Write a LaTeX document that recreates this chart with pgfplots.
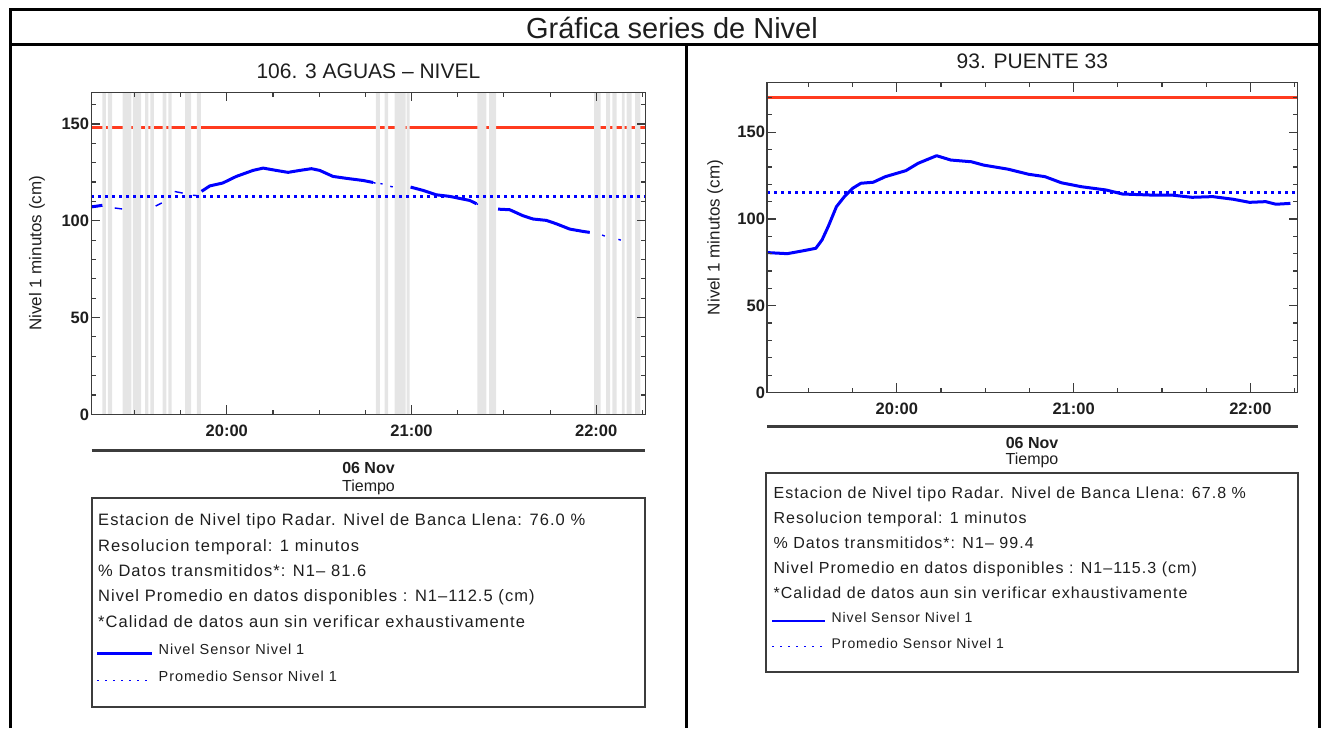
\documentclass[border=0pt]{standalone}
\usepackage{pgfplots}
\pgfplotsset{compat=1.18}
\usepackage{fontspec}
\setmainfont{Liberation Sans}
% IDL text is set wider than Arial; widen it a little
\newfontfamily\boxfont[LetterSpace=6.5]{Liberation Sans}

\definecolor{nivred}{RGB}{255,59,31}
\definecolor{gapgray}{RGB}{229,229,229}
\definecolor{axgray}{RGB}{60,60,60}
\definecolor{txt}{RGB}{30,30,30}

\pgfplotsset{
  nivel/.style={
    scale only axis,
    xmin=16, xmax=196, ymin=0,
    axis on top,
    clip=true,
    unbounded coords=jump,
    axis line style={line width=1.6pt, draw=axgray},
    xtick={60,120,180},
    xticklabels={20:00,21:00,22:00},
    minor xtick={30,45,75,90,105,135,150,165,195},
    ytick={0,50,100,150},
    minor ytick={10,20,...,170},
    tick align=inside,
    tick pos=both,
    major tick length=9pt,
    minor tick length=4.5pt,
    every tick/.append style={line width=1.1pt, draw=axgray},
    every minor tick/.append style={line width=1.1pt, draw=axgray},
    /pgf/number format/assume math mode=true,
    tick label style={font=\fontsize{16.5}{18}\selectfont\bfseries, text=txt},
    yticklabel style={inner sep=2pt},
    xticklabel style={anchor=north, inner sep=0pt, yshift=-10pt},
    ylabel={Nivel 1 minutos (cm)},
    ylabel style={font=\fontsize{17}{20}\selectfont, text=txt,
      at={(axis description cs:-0.098,0.5)}, anchor=center},
    title style={font=\fontsize{21}{24}\selectfont, text=txt,
      at={(0.5,1)}, anchor=base, yshift=8pt},
  }
}

\begin{document}
\begin{tikzpicture}[x=1pt, y=1pt]
\useasboundingbox (0,0) rectangle (1322,728);

% table frame
\draw[line width=3pt] (10,0) -- (10,718) -- (1319,718) -- (1319,0);
\draw[line width=3pt] (10,683) -- (1319,683);
\draw[line width=3pt] (686,683) -- (686,0);
\node[anchor=base, font=\fontsize{29}{34}\selectfont, text=txt] at (672,689) {Gráfica series de Nivel};

% ---------------- left: 106. 3 AGUAS - NIVEL ----------------
\begin{axis}[nivel,
    at={(91.3pt,313.6pt)}, anchor=south west,
    width=554.2pt, height=322pt,
    ymax=166.3,
    title={106. 3 AGUAS – NIVEL},
  ]
  % banca llena
  \addplot[nivred, line width=3pt] coordinates {(16,148) (196,148)};
  % periods without data
  \addplot[fill=gapgray, draw=none] coordinates {
    (19.6,0) (19.6,170) (20.7,170) (20.7,0)
    (21.4,0) (21.4,170) (22.8,170) (22.8,0)
    (26.2,0) (26.2,170) (29.0,170) (29.0,0)
    (29.5,0) (29.5,170) (32.2,170) (32.2,0)
    (33.5,0) (33.5,170) (34.5,170) (34.5,0)
    (35.2,0) (35.2,170) (36.3,170) (36.3,0)
    (39.2,0) (39.2,170) (40.4,170) (40.4,0)
    (41.0,0) (41.0,170) (42.1,170) (42.1,0)
    (46.5,0) (46.5,170) (48.4,170) (48.4,0)
    (50.3,0) (50.3,170) (51.6,170) (51.6,0)
    (108.4,0) (108.4,170) (109.7,170) (109.7,0)
    (111.3,0) (111.3,170) (112.4,170) (112.4,0)
    (114.5,0) (114.5,170) (118.1,170) (118.1,0)
    (118.4,0) (118.4,170) (119.4,170) (119.4,0)
    (141.4,0) (141.4,170) (144.3,170) (144.3,0)
    (145.2,0) (145.2,170) (147.5,170) (147.5,0)
    (179.3,0) (179.3,170) (181.4,170) (181.4,0)
    (183.2,0) (183.2,170) (184.5,170) (184.5,0)
    (185.2,0) (185.2,170) (186.6,170) (186.6,0)
    (188.3,0) (188.3,170) (189.2,170) (189.2,0)
    (189.9,0) (189.9,170) (191.5,170) (191.5,0)
    (192.6,0) (192.6,170) (194.3,170) (194.3,0)
  };
  % promedio
  \addplot[blue, line width=3pt, dash pattern=on 2.5pt off 4.5pt] coordinates {(16,112.5) (196,112.5)};
  % nivel, isolated readings
  \addplot[blue, line width=1.4pt, line join=round] coordinates {
    (23.6,106.6) (26.0,106.1) (26.0,nan)
    (36.9,107.6) (38.9,109.2) (38.9,nan)
    (43.1,115.1) (45.7,114.3) (45.7,nan)
    (49.0,113.2) (50.3,113.0) (50.3,nan)
    (107.5,119.8) (108.3,119.4) (108.3,nan)
    (109.9,119.2) (110.6,119.0) (110.6,nan)
    (113.1,117.8) (113.9,117.5) (113.9,nan)
    (141.1,108.8) (141.6,108.5) (141.6,nan)
    (181.9,92.6) (182.8,92.1) (182.8,nan)
    (187.2,90.4) (188.0,90.0)
  };
  % nivel, continuous readings
  \addplot[blue, line width=3pt, line join=round] coordinates {
    (16.1,107.2) (18.0,107.6) (19.6,108.0) (19.6,nan)
    (51.8,115.2) (54.5,118.0) (58.7,119.5) (63.1,122.9) (68.5,126.0)
    (71.8,127.2) (76.1,126.0) (79.9,125.0) (83.7,126.0) (87.5,126.9)
    (90.2,126.0) (94.5,122.9) (98.9,121.9) (104.3,120.8) (107.5,119.8)
    (107.5,nan)
    (119.7,117.4) (123.7,115.7) (128.1,113.4) (132.4,112.6) (136.7,111.2)
    (138.9,110.5) (141.1,108.8) (141.1,nan)
    (148.1,106.0) (151.9,105.7) (156.2,102.6) (159.5,100.9) (163.8,100.2)
    (167.1,98.4) (171.4,95.7) (175.7,94.5) (177.9,94.0)
  };
\end{axis}

\draw[line width=2.5pt, axgray] (91.5,277.3) -- (645,277.3);
\node[anchor=base, font=\fontsize{16}{18}\selectfont\bfseries, text=txt] at (368.5,254) {06 Nov};
\node[anchor=base, font=\fontsize{16}{18}\selectfont, text=txt] at (368.5,236.5) {Tiempo};
\draw[line width=2pt, axgray] (91.5,229.7) rectangle (645,21.3);
\begin{scope}[every node/.style={anchor=base west, inner sep=0pt, text=txt, font=\boxfont\fontsize{16.5}{18}\selectfont}]
  \node at (98,202) {Estacion de Nivel tipo Radar. Nivel de Banca Llena: 76.0 \%};
  \node at (98,176.7) {Resolucion temporal: 1 minutos};
  \node at (98,151.3) {\% Datos transmitidos*: N1– 81.6};
  \node at (98,126) {Nivel Promedio en datos disponibles : N1–112.5 (cm)};
  \node at (98,100.7) {*Calidad de datos aun sin verificar exhaustivamente};
  \node[font=\boxfont\fontsize{14.5}{16}\selectfont] at (158.5,73) {Nivel Sensor Nivel 1};
  \node[font=\boxfont\fontsize{14.5}{16}\selectfont] at (158.5,46.3) {Promedio Sensor Nivel 1};
\end{scope}
\draw[blue, line width=2.2pt] (97,74.5) -- (152,74.5);
\draw[blue, line width=1.6pt, dash pattern=on 1.6pt off 6.4pt] (97,47.3) -- (152,47.3);

% ---------------- right: 93. PUENTE 33 ----------------
\begin{axis}[nivel,
    at={(767.2pt,335.6pt)}, anchor=south west,
    width=530.3pt, height=309.7pt,
    ymax=178.6,
    title={93. PUENTE 33},
  ]
  \addplot[nivred, line width=3pt] coordinates {(16,170) (196,170)};
  \addplot[blue, line width=3pt, dash pattern=on 2.5pt off 4.5pt] coordinates {(16,115.3) (196,115.3)};
  \addplot[blue, line width=3pt, line join=round] coordinates {
    (16.3,80.6) (22.8,80.0) (28.3,81.7) (32.5,83.1) (34.6,87.9)
    (36.7,95.6) (39.5,107.1) (42.2,112.9) (45.0,117.7) (47.8,120.6)
    (52.0,121.2) (56.1,124.4) (63.1,127.9) (67.2,132.1) (73.5,136.5)
    (78.3,134.0) (85.3,133.0) (89.4,131.1) (97.8,128.7) (104.7,125.8)
    (110.3,124.4) (115.8,120.9) (122.7,118.6) (131.1,116.7) (136.6,114.4)
    (146.3,113.8) (153.3,113.8) (160.2,112.5) (167.2,112.9) (174.1,111.4)
    (179.7,109.6) (185.2,110.0) (188.7,108.5) (193.6,109.0)
  };
\end{axis}

\draw[line width=2.5pt, axgray] (767,301.3) -- (1297.5,301.3);
\node[anchor=base, font=\fontsize{16}{18}\selectfont\bfseries, text=txt] at (1032,279.7) {06 Nov};
\node[anchor=base, font=\fontsize{16}{18}\selectfont, text=txt] at (1032,263.5) {Tiempo};
\draw[line width=2pt, axgray] (766,254.7) rectangle (1298.4,56.3);
\begin{scope}[every node/.style={anchor=base west, inner sep=0pt, text=txt, font=\boxfont\fontsize{16}{18}\selectfont}]
  \node at (773.4,229.7) {Estacion de Nivel tipo Radar. Nivel de Banca Llena: 67.8 \%};
  \node at (773.4,204.7) {Resolucion temporal: 1 minutos};
  \node at (773.4,179.7) {\% Datos transmitidos*: N1– 99.4};
  \node at (773.4,154.7) {Nivel Promedio en datos disponibles : N1–115.3 (cm)};
  \node at (773.4,129.7) {*Calidad de datos aun sin verificar exhaustivamente};
  \node[font=\boxfont\fontsize{14}{16}\selectfont] at (831.5,105.3) {Nivel Sensor Nivel 1};
  \node[font=\boxfont\fontsize{14}{16}\selectfont] at (831.5,79.7) {Promedio Sensor Nivel 1};
\end{scope}
\draw[blue, line width=2.2pt] (772,106.8) -- (825.4,106.8);
\draw[blue, line width=1.6pt, dash pattern=on 1.6pt off 6.4pt] (772,81.3) -- (825.4,81.3);
\end{tikzpicture}
\end{document}
